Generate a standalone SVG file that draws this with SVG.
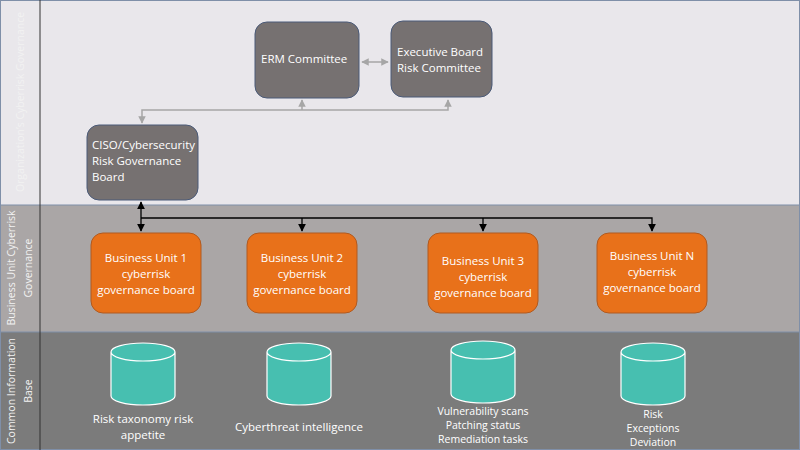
<svg xmlns="http://www.w3.org/2000/svg" width="800" height="450" viewBox="0 0 800 450">
<defs>
<style>
text{font-family:"Open Sans","Noto Sans",sans-serif;font-size:11.5px;fill:#fff}
.g{fill:#767171;stroke:#4a5a78;stroke-width:1}
.o{fill:#e8711a;stroke:#b05a20;stroke-width:1}
.c{fill:#47bfb0;stroke:#fff;stroke-width:1.2}
.lg{stroke:#a6a6a6;stroke-width:1.5;fill:none}
.bk{stroke:#000;stroke-width:1.3;fill:none}
.lbl{font-size:10.5px;fill:#f2f2f2}
.sm{font-size:10.5px}
</style>
<marker id="ag" viewBox="0 0 10 10" refX="9" refY="5" markerWidth="5" markerHeight="5" orient="auto-start-reverse"><path d="M0,0L10,5L0,10z" fill="#a6a6a6"/></marker>
<marker id="ab" viewBox="0 0 10 10" refX="9" refY="5" markerWidth="6" markerHeight="6" orient="auto-start-reverse"><path d="M0,0L10,5L0,10z" fill="#000"/></marker>
</defs>
<rect x="0" y="0" width="800" height="205" fill="#e9e7eb"/>
<rect x="0" y="205" width="800" height="127" fill="#aaa6a6"/>
<rect x="0" y="332" width="800" height="118" fill="#7b7b7b"/>
<line x1="0" y1="205" x2="800" y2="205" stroke="#7f8fa8" stroke-width="1"/>
<line x1="0" y1="332" x2="800" y2="332" stroke="#7f8fa8" stroke-width="1"/>
<rect x="0.5" y="0.5" width="799" height="449" fill="none" stroke="#7f8fa8"/>
<line x1="40" y1="0" x2="40" y2="450" stroke="#333" stroke-width="1"/>
<text class="lbl" transform="translate(24,102) rotate(-90)" text-anchor="middle">Organization’s Cyberrisk Governance</text>
<text class="lbl" transform="translate(15,268) rotate(-90)" text-anchor="middle">Business Unit Cyberrisk</text>
<text class="lbl" transform="translate(32,268) rotate(-90)" text-anchor="middle">Governance</text>
<text class="lbl" transform="translate(15,391) rotate(-90)" text-anchor="middle">Common Information</text>
<text class="lbl" transform="translate(32,391) rotate(-90)" text-anchor="middle">Base</text>
<g id="connectors">
<line class="lg" x1="362" y1="62" x2="388" y2="62" marker-start="url(#ag)" marker-end="url(#ag)"/>
<path class="lg" d="M142,123V110H448V100" marker-start="url(#ag)" marker-end="url(#ag)"/>
<line class="lg" x1="302" y1="110" x2="302" y2="100" marker-end="url(#ag)"/>
<line class="bk" x1="141" y1="202" x2="141" y2="231" marker-start="url(#ab)" marker-end="url(#ab)"/>
<path class="bk" d="M141,218H652V231" marker-end="url(#ab)"/>
<line class="bk" x1="302" y1="218" x2="302" y2="231" marker-end="url(#ab)"/>
<line class="bk" x1="483" y1="218" x2="483" y2="231" marker-end="url(#ab)"/>
</g>
<g id="erm"><rect class="g" x="255" y="22" width="104" height="76" rx="12"/><text x="261" y="63">ERM Committee</text></g>
<g id="exec"><rect class="g" x="391" y="21" width="101" height="76" rx="12"/><text x="397" y="56">Executive Board</text><text x="397" y="72">Risk Committee</text></g>
<g id="ciso"><rect class="g" x="87" y="125" width="111" height="75" rx="12"/><text x="92" y="149">CISO/Cybersecurity</text><text x="92" y="165">Risk Governance</text><text x="92" y="181">Board</text></g>
<g id="bu1"><rect class="o" x="91" y="233" width="110" height="80" rx="12"/><text x="146" y="262" text-anchor="middle">Business Unit 1</text><text x="146" y="278" text-anchor="middle">cyberrisk</text><text x="146" y="294" text-anchor="middle">governance board</text></g>
<g id="bu2"><rect class="o" x="247" y="233" width="110" height="80" rx="12"/><text x="302" y="262" text-anchor="middle">Business Unit 2</text><text x="302" y="278" text-anchor="middle">cyberrisk</text><text x="302" y="294" text-anchor="middle">governance board</text></g>
<g id="bu3"><rect class="o" x="428" y="233" width="110" height="80" rx="12"/><text x="483" y="265" text-anchor="middle">Business Unit 3</text><text x="483" y="281" text-anchor="middle">cyberrisk</text><text x="483" y="297" text-anchor="middle">governance board</text></g>
<g id="bun"><rect class="o" x="597" y="233" width="110" height="80" rx="12"/><text x="652" y="260" text-anchor="middle">Business Unit N</text><text x="652" y="276" text-anchor="middle">cyberrisk</text><text x="652" y="292" text-anchor="middle">governance board</text></g>
<g id="db1"><path class="c" d="M111,352V396A32,9 0 0 0 175,396V352A32,9 0 0 0 111,352A32,9 0 0 0 175,352"/><text x="143" y="423" text-anchor="middle">Risk taxonomy risk</text><text x="143" y="439" text-anchor="middle">appetite</text></g>
<g id="db2"><path class="c" d="M267,352V396A32,9 0 0 0 331,396V352A32,9 0 0 0 267,352A32,9 0 0 0 331,352"/><text x="299" y="431" text-anchor="middle">Cyberthreat intelligence</text></g>
<g id="db3"><path class="c" d="M451,350V394A32,9 0 0 0 515,394V350A32,9 0 0 0 451,350A32,9 0 0 0 515,350"/><text class="sm" x="483" y="415" text-anchor="middle">Vulnerability scans</text><text class="sm" x="483" y="429" text-anchor="middle">Patching status</text><text class="sm" x="483" y="443" text-anchor="middle">Remediation tasks</text></g>
<g id="db4"><path class="c" d="M621,352V396A32,9 0 0 0 685,396V352A32,9 0 0 0 621,352A32,9 0 0 0 685,352"/><text class="sm" x="653" y="418" text-anchor="middle">Risk</text><text class="sm" x="653" y="432" text-anchor="middle">Exceptions</text><text class="sm" x="653" y="446" text-anchor="middle">Deviation</text></g>
</svg>
